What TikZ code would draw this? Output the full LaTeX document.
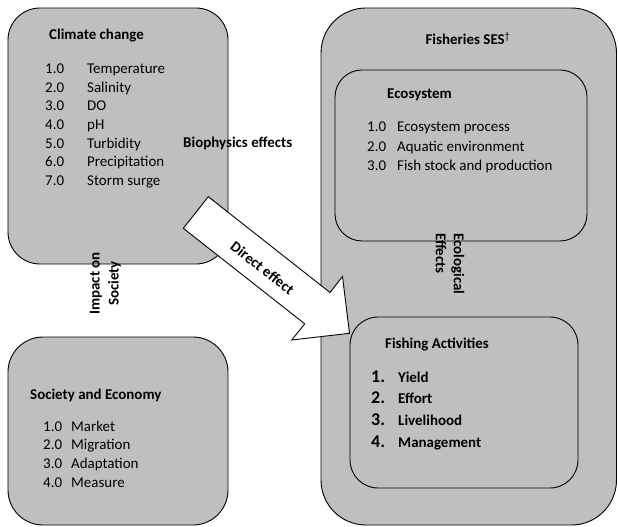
\documentclass[tikz,border=0pt]{standalone}
\usepackage{fontspec}
\setmainfont{Carlito}
\definecolor{boxgray}{RGB}{191,191,191}
\begin{document}
\begin{tikzpicture}[x=1bp,y=-1bp,
  box/.style={draw=black, line width=0.9bp, fill=boxgray, inner sep=0pt},
  ttl/.style={font=\fontsize{15}{18}\selectfont\bfseries, inner sep=0pt, anchor=base west},
  lst/.style={inner sep=0pt, anchor=base west},
  lbl/.style={font=\fontsize{15}{18}\selectfont\bfseries, inner sep=0pt}
]
\useasboundingbox (0,0) rectangle (618,527);
% boxes
\node[box, rounded corners=32bp, minimum width=220bp, minimum height=256bp] (climate) at (118,136) {};
\node[box, rounded corners=35bp, minimum width=220bp, minimum height=188bp] (society) at (118,431) {};
\node[box, rounded corners=45bp, minimum width=295.5bp, minimum height=517bp] (ses) at (468.75,266.5) {};
\node[box, rounded corners=27bp, minimum width=252bp, minimum height=171bp] (eco) at (461,155.5) {};
\node[box, rounded corners=28bp, minimum width=228bp, minimum height=171bp] (fish) at (464,402.5) {};
% block arrow (direct effect)
\coordinate (a1) at (208.3,196.7);
\coordinate (a2) at (330,292.5);
\coordinate (a3) at (342.5,276.5);
\coordinate (a4) at (349.5,333.3);
\coordinate (a5) at (291.7,340);
\coordinate (a6) at (304.7,323.8);
\coordinate (a7) at (183.3,228.3);
\draw[line width=0.9bp, fill=white, line join=miter] (a1) -- (a2) -- (a3) -- (a4) -- (a5) -- (a6) -- (a7) -- cycle;
% climate change
\node[ttl] (cct) at (49,40) {Climate change};
\node[lst, font=\fontsize{15}{18.7}\selectfont] (ccl) at (45,73.5) {\begin{tabular}[t]{@{}p{42bp}@{}l@{}}
1.0&Temperature\\ 2.0&Salinity\\ 3.0&DO\\ 4.0&pH\\ 5.0&Turbidity\\ 6.0&Precipitation\\ 7.0&Storm surge
\end{tabular}};
% fisheries SES
\node[lbl, anchor=base] (sest) at (468,45) {Fisheries SES\textsuperscript{\mdseries †}};
% ecosystem
\node[ttl] (ecot) at (387,99) {Ecosystem};
\node[lst, font=\fontsize{15}{19.5}\selectfont] (ecol) at (367,132) {\begin{tabular}[t]{@{}p{30bp}@{}l@{}}
1.0&Ecosystem process\\ 2.0&Aquatic environment\\ 3.0&Fish stock and production
\end{tabular}};
% fishing activities
\node[ttl] (fisht) at (385,348) {Fishing Activities};
\node[lst, font=\fontsize{15}{22}\selectfont\bfseries] (fishl) at (371,382) {\begin{tabular}[t]{@{}p{27bp}@{}l@{}}
{\fontsize{18}{22}\selectfont 1.}&Yield\\ {\fontsize{18}{22}\selectfont 2.}&Effort\\ {\fontsize{18}{22}\selectfont 3.}&Livelihood\\ {\fontsize{18}{22}\selectfont 4.}&Management
\end{tabular}};
% society and economy
\node[ttl] (soct) at (30,399) {Society and Economy};
\node[lst, font=\fontsize{15}{19}\selectfont] (socl) at (43,431) {\begin{tabular}[t]{@{}p{28bp}@{}l@{}}
1.0&Market\\ 2.0&Migration\\ 3.0&Adaptation\\ 4.0&Measure
\end{tabular}};
% connector labels
\node[lbl, anchor=base west] (bio) at (183,148) {Biophysics effects};
\node[lbl, font=\fontsize{15}{19}\selectfont\bfseries, rotate=90, align=center] (imp) at (105.5,283.5) {Impact on\\Society};
\node[lbl, font=\fontsize{15}{18}\selectfont\bfseries, rotate=-90, align=left, anchor=west] (ecoeff) at (450,233) {Ecological\\Effects};
\node[lbl, rotate=-38] (direct) at (262.5,268) {Direct effect};
\end{tikzpicture}
\end{document}
